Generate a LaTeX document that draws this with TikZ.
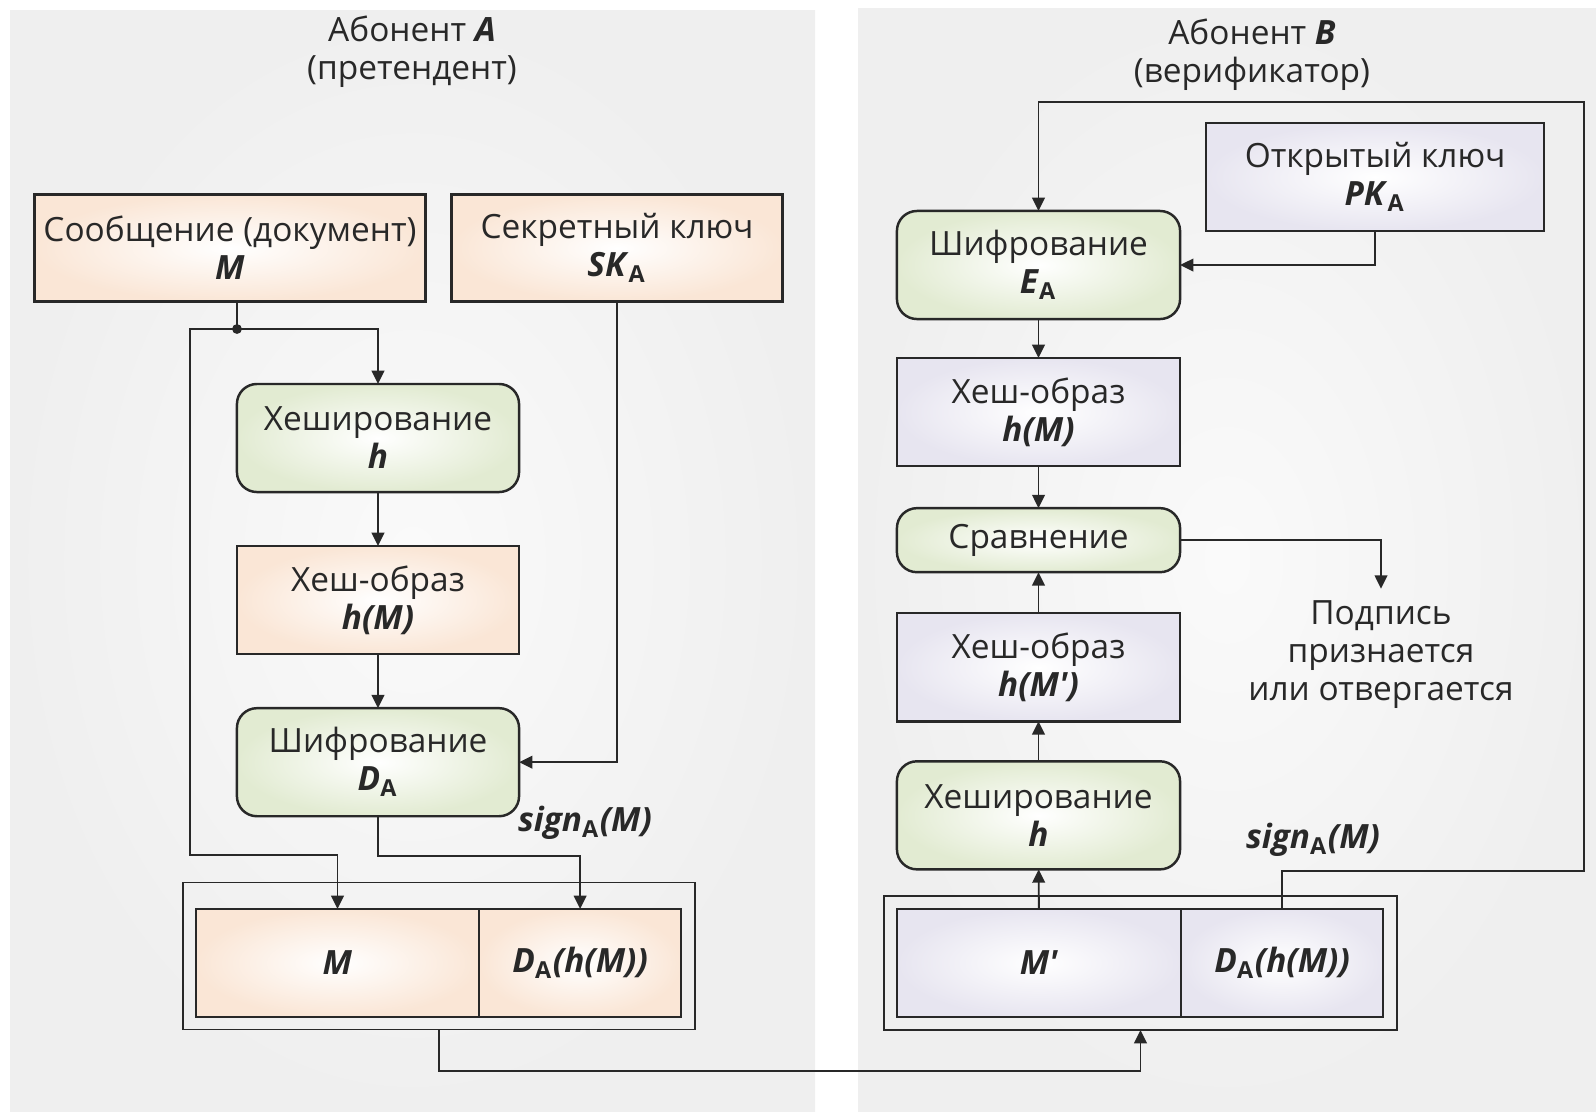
\documentclass[tikz,border=0pt]{standalone}
\usepackage{fontspec}
\setmainfont{Open Sans}
\usepackage{xcolor}
\usepackage{tikz}
\usetikzlibrary{positioning, arrows.meta}

\definecolor{peach}{RGB}{250,230,214}
\definecolor{leaf}{RGB}{226,235,210}
\definecolor{lilac}{RGB}{231,229,240}
\definecolor{panel}{RGB}{239,239,239}
\definecolor{ink}{RGB}{40,40,40}

\newcommand{\bsym}[1]{\textbf{\textit{#1}}}
\newcommand{\subA}{\textsubscript{\textbf{A}}}

\begin{document}
\begin{tikzpicture}[
    x=0.01cm, y=-0.01cm,
    font=\fontsize{9.5}{10.8}\selectfont, text=ink,
    box/.style={rectangle, draw=ink, line width=0.7pt, inner sep=0pt, outer sep=0pt, align=center, minimum width=2.82cm, minimum height=1.08cm},
    peachbox/.style={box, inner color=white, outer color=peach},
    lilacbox/.style={box, inner color=white, outer color=lilac},
    stepbox/.style={box, rounded corners=0.2cm, inner color=white, outer color=leaf},
    wrap/.style={rectangle, draw=ink, line width=0.5pt, inner sep=0pt, outer sep=0pt},
    link/.style={draw=ink, line width=0.55pt},
    arr/.style={link, -{Triangle[length=3.8pt, width=3.6pt]}}
]
\useasboundingbox (0,0) rectangle (1596,1111);

% Panels
\shade[inner color=white!70!panel, outer color=panel] (10,10) rectangle (815,1111);
\shade[inner color=white!70!panel, outer color=panel] (858,8) rectangle (1596,1111);

% Subscriber A
\node[align=center] (titleA) at (412,52) {Абонент \bsym{A}\\(претендент)};
\node[peachbox, minimum width=3.91cm, minimum height=1.07cm] (msg) at (230,248) {Сообщение (документ)\\\bsym{M}};
\node[peachbox, minimum width=3.31cm, minimum height=1.07cm] (skey) at (617,248) {Секретный ключ\\\bsym{SK}\subA};
\node[stepbox] (hashA) at (378,438) {Хеширование\\\bsym{h}};
\node[peachbox, below=0.54cm of hashA] (imgA) {Хеш-образ\\\bsym{h(M)}};
\node[stepbox, below=0.54cm of imgA] (encA) {Шифрование\\\bsym{D}\subA};

% Signed message of A
\node[wrap, minimum width=5.12cm, minimum height=1.47cm] (packA) at (439,956) {};
\node[peachbox, minimum width=2.83cm] (msgA) at (337.5,963) {\bsym{M}};
\node[peachbox, minimum width=2.02cm, right=0pt of msgA] (sigA) {\bsym{D}\subA\bsym{(h(M))}};
\node (signA) at (585,823) {\bsym{sign}\subA\bsym{(M)}};

% Edges of A
\coordinate (fork) at (237,329);
\coordinate (loopA) at (190,855);
\fill[ink] (fork) circle (1.4pt);
\draw[link] (msg.south -| fork) -- (fork);
\draw[arr] (fork) -| (hashA.north);
\draw[arr] (fork) -| (loopA) -| (msgA.north);
\draw[arr] (hashA) -- (imgA);
\draw[arr] (imgA) -- (encA);
\draw[arr] (skey.south) |- (encA.east);
\draw[arr] (encA.south) -- ++(0,40) -| (sigA.north);

% Subscriber B
\node[align=center] (titleB) at (1252,55) {Абонент \bsym{B}\\(верификатор)};
\node[lilacbox, minimum width=3.38cm] (pkey) at (1375,177) {Открытый ключ\\\bsym{PK}\subA};
\node[stepbox, minimum width=2.83cm] (encB) at (1038.5,265) {Шифрование\\\bsym{E}\subA};
\node[lilacbox, minimum width=2.83cm, below=0.39cm of encB] (imgB) {Хеш-образ\\\bsym{h(M)}};
\node[stepbox, minimum width=2.83cm, minimum height=0.64cm, below=0.42cm of imgB] (cmp) {Сравнение};
\node[lilacbox, minimum width=2.83cm, below=0.41cm of cmp] (imgB2) {Хеш-образ\\\bsym{h(M\textquotesingle)}};
\node[stepbox, minimum width=2.83cm, below=0.40cm of imgB2] (hashB) {Хеширование\\\bsym{h}};
\node[align=center] (verdict) at (1381,655) {Подпись\\признается\\или отвергается};

% Received message of B
\node[wrap, minimum width=5.13cm, minimum height=1.34cm] (packB) at (1140.5,963) {};
\node[lilacbox, minimum width=2.84cm] (msgB) at (1039,963) {\bsym{M\textquotesingle}};
\node[lilacbox, minimum width=2.02cm, right=0pt of msgB] (sigB) {\bsym{D}\subA\bsym{(h(M))}};
\node (signB) at (1313,840) {\bsym{sign}\subA\bsym{(M)}};

% Edges of B
\coordinate (corner) at (1584,102);
\draw[arr] (sigB.north) -- ++(0,-38) -| (corner) -| (encB.north);
\draw[arr] (pkey.south) |- (encB.east);
\draw[arr] (encB) -- (imgB);
\draw[arr] (imgB) -- (cmp);
\draw[arr] (imgB2) -- (cmp);
\draw[arr] (hashB) -- (imgB2);
\draw[arr] (msgB) -- (hashB);
\draw[arr] (cmp.east) -| (verdict.north);

% Transfer from A to B
\draw[arr] (packA.south) -- ++(0,41) -| (packB.south);

\end{tikzpicture}
\end{document}
